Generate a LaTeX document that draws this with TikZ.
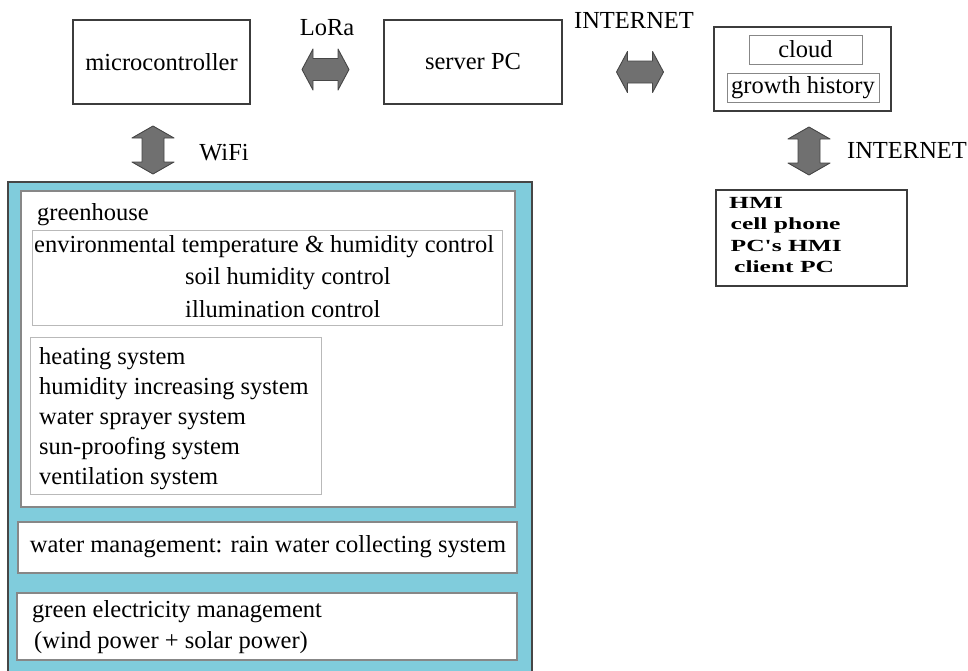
\documentclass[tikz,border=0pt]{standalone}
\usepackage{fontspec}
\setmainfont{Liberation Serif}
\newfontfamily\hmifont[FakeStretch=1.5]{Liberation Serif}
\definecolor{skyfill}{RGB}{128,204,220}
\definecolor{arrowfill}{RGB}{112,112,112}
\definecolor{arrowline}{RGB}{70,70,70}
\definecolor{boxline}{RGB}{60,60,60}
\definecolor{paleline}{RGB}{185,185,185}
\definecolor{midline}{RGB}{135,135,135}
\tikzset{
  txt/.style={inner sep=0pt, font=\fontsize{24.5}{31}\selectfont, align=left},
  darkbox/.style={draw=boxline, line width=1.1pt, fill=white, inner sep=0pt, font=\fontsize{24.5}{30}\selectfont},
  palebox/.style={draw=paleline, line width=1pt, fill=white},
  greybox/.style={draw=midline, line width=1.4pt, fill=white},
  blockarrow/.style={fill=arrowfill, draw=arrowline, line width=0.9pt, line join=round},
  harrow/.pic={\path[blockarrow] (-23.5,0) -- (-12.5,-20.5) -- (-12.5,-11) -- (12.5,-11) -- (12.5,-20.5) -- (23.5,0)
      -- (12.5,20.5) -- (12.5,11) -- (-12.5,11) -- (-12.5,20.5) -- cycle;},
  varrow/.pic={\path[blockarrow] (0,-24) -- (21,-12) -- (11,-12) -- (11,12) -- (21,12) -- (0,24)
      -- (-21,12) -- (-11,12) -- (-11,-12) -- (-21,-12) -- cycle;}
}
\begin{document}
\begin{tikzpicture}[x=1pt,y=-1pt]
\useasboundingbox (0,0) rectangle (968,670);
\fill[white] (0,0) rectangle (968,670);

% top row
\node[darkbox, minimum width=177pt, minimum height=84pt] (micro) at (161.5,62) {microcontroller};
\node[darkbox, minimum width=178pt, minimum height=84pt] (server) at (473,62) {server PC};
\node[darkbox, minimum width=177pt, minimum height=84pt] (cloudbox) at (802.5,69) {};
\node[draw=midline, line width=1pt, fill=white, minimum width=113pt, minimum height=29pt, inner sep=0pt,
      font=\fontsize{24.5}{30}\selectfont] (cloud) at (805.5,49.5) {cloud};
\node[draw=midline, line width=1pt, fill=white, minimum width=152pt, minimum height=29pt, inner sep=0pt,
      font=\fontsize{24.5}{30}\selectfont] (growth) at (803,87.5) {growth history};

\node[txt] (lora) at (327,28) {LoRa};
\pic at (325.5,69.5) {harrow};
\node[txt] (inet1) at (634,20) {INTERNET};
\pic at (640,72) {harrow};

\pic at (153,150) {varrow};
\node[txt] (wifi) at (224,153) {WiFi};
\pic at (809,151) {varrow};
\node[txt] (inet2) at (907,150) {INTERNET};

% HMI box
\node[darkbox, minimum width=191pt, minimum height=96pt] (hmibox) at (811.5,238) {};
\node[inner sep=0pt, anchor=north west, align=left, font=\hmifont\bfseries\fontsize{17}{21.5}\selectfont] (hmi) at (729,197)
  {HMI\\\hspace{1.5pt}cell phone\\\hspace{1.5pt}PC's HMI\\\hspace{5pt}client PC};

% greenhouse block
\draw[draw=arrowline, line width=1.4pt, fill=skyfill] (8,182) rectangle (532,690);
\draw[greybox] (21,191) rectangle (515,507);
\node[txt, anchor=north west] (gh) at (37,203) {greenhouse};
\draw[palebox] (32,230) rectangle (502,325);
\node[txt, anchor=north west] (env) at (34,235) {environmental temperature \& humidity control};
\node[txt, anchor=north west, font=\fontsize{24.5}{33}\selectfont] (soil) at (185,267) {soil humidity control\\illumination control};
\draw[palebox] (30,337) rectangle (321,494);
\node[txt, anchor=north west, font=\fontsize{24.5}{30}\selectfont] (sys) at (39,347)
  {heating system\\humidity increasing system\\water sprayer system\\sun-proofing system\\ventilation system};

\draw[greybox] (18,522) rectangle (517,573);
\node[txt] (water) at (268,547) {water management: rain water collecting system};
\draw[greybox] (17,593) rectangle (517,660);
\node[txt, anchor=north west] (elec) at (32,600) {green electricity management\\\hspace{2pt}(wind power + solar power)};
\end{tikzpicture}
\end{document}
